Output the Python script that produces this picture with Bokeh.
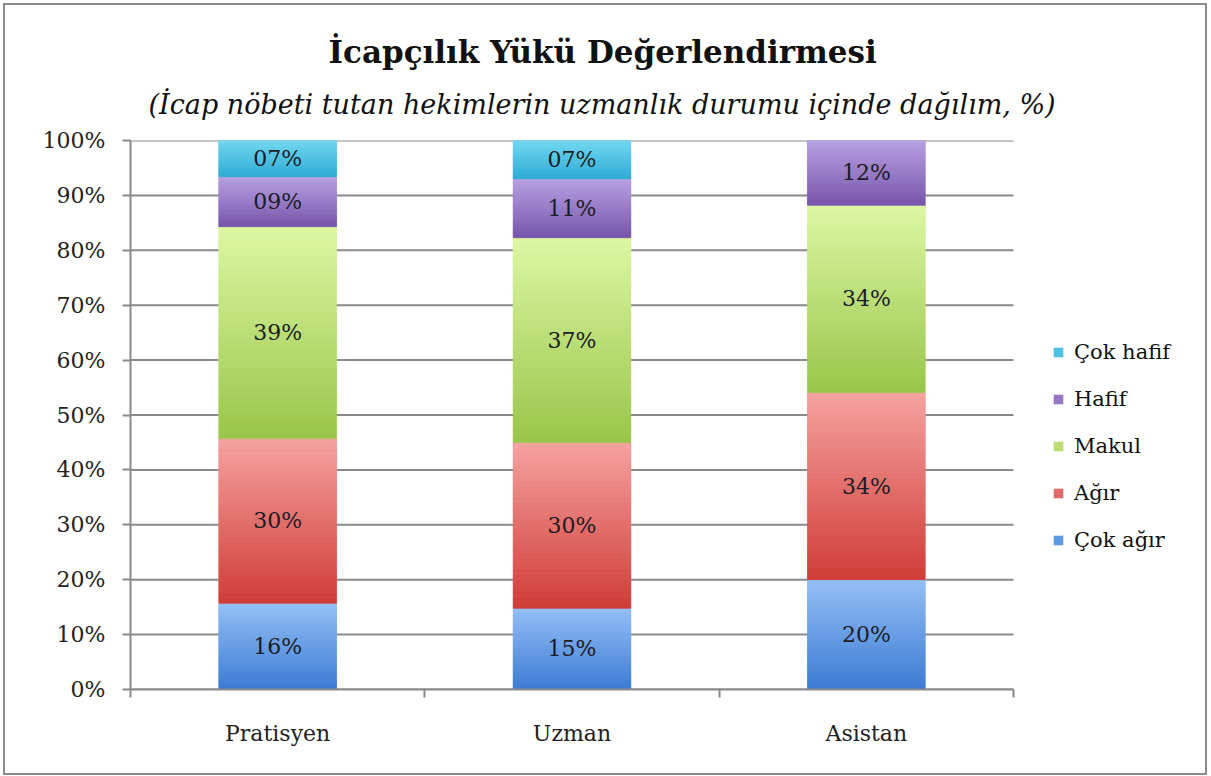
from bokeh.plotting import figure
from bokeh.models import (ColumnDataSource, FixedTicker, PrintfTickFormatter,
                          Legend, LegendItem, Title, Range1d)
from bokeh.core.properties import value
from bokeh.embed import file_html
from bokeh.resources import INLINE

title_text = "İcapçılık Yükü Değerlendirmesi"
subtitle_text = "(İcap nöbeti tutan hekimlerin uzmanlık durumu  içinde dağılım, %)"

categories = ["Pratisyen", "Uzman", "Asistan"]
series = ["Çok ağır", "Ağır", "Makul", "Hafif", "Çok hafif"]

cok_agir = [15.7, 14.8, 20.0]
agir = [30.0, 30.2, 34.1]
makul = [38.6, 37.3, 34.1]
hafif = [9.1, 10.7, 11.8]
cok_hafif = [6.6, 7.0, 0.0]

label_cok_agir = ["16%", "15%", "20%"]
label_agir = ["30%", "30%", "34%"]
label_makul = ["39%", "37%", "34%"]
label_hafif = ["09%", "11%", "12%"]
label_cok_hafif = ["07%", "07%", ""]

y_ticks = [0, 10, 20, 30, 40, 50, 60, 70, 80, 90, 100]

values = [cok_agir, agir, makul, hafif, cok_hafif]
labels = [label_cok_agir, label_agir, label_makul, label_hafif, label_cok_hafif]

colors_top = ["#95c0f6", "#f6a3a1", "#ddf8a4", "#b9a2e3", "#74d8f2"]
colors_bottom = ["#3c7bd3", "#cf3c37", "#9ac54a", "#7655aa", "#2eabd3"]
colors_mid = ["#5f98e3", "#e36b67", "#b9dd70", "#9878c6", "#4cc2e4"]

FONT = "DejaVu Serif"
GRAY = "#8a8a8a"

# layout (pixels, inside the figure element)
FRAME_LEFT, PLOT_RIGHT, FRAME_RIGHT = 125, 1008, 1190
n_cat = len(categories)
x_end = n_cat * (FRAME_RIGHT - FRAME_LEFT) / (PLOT_RIGHT - FRAME_LEFT)


def hex_to_rgb(h):
    h = h.lstrip("#")
    return tuple(int(h[i:i + 2], 16) for i in (0, 2, 4))


def mix(c1, c2, t):
    a, b = hex_to_rgb(c1), hex_to_rgb(c2)
    return "#%02x%02x%02x" % tuple(int(round(a[i] + (b[i] - a[i]) * t)) for i in range(3))


p = figure(width=1200, height=768,
           x_range=Range1d(0, x_end), y_range=Range1d(0, 100),
           output_backend="svg", toolbar_location=None,
           min_border_left=FRAME_LEFT, min_border_right=1200 - FRAME_RIGHT,
           min_border_top=135, min_border_bottom=84,
           outline_line_color=None,
           background_fill_color="white", border_fill_color="white")
p.styles = {"position": "relative", "left": "5px", "top": "5px",
            "outline": "2px solid #8c8c8c", "outline-offset": "0px"}

# main title (outermost) and subtitle (next to the frame)
p.title.text = title_text
p.title.align = "left"
p.title.offset = 198
p.title.standoff = -6
p.title.text_font = FONT
p.title.text_font_style = "bold"
p.title.text_font_size = "31px"
p.title.text_color = "#111111"
p.add_layout(Title(text=subtitle_text, align="left", offset=18, standoff=41,
                   text_font=FONT, text_font_style="italic",
                   text_font_size="27px", text_color="#111111"), "above")

xs = [i + 0.5 for i in range(n_cat)]
BAR_W = 0.4
N = 30

# horizontal gridlines over the category span only
p.xgrid.visible = False
p.ygrid.visible = False
p.segment(x0=[0] * len(y_ticks), x1=[n_cat] * len(y_ticks), y0=y_ticks, y1=y_ticks,
          line_color=GRAY, line_width=2)

bottoms = [0.0] * n_cat
legend_renderers = []
for s_idx, name in enumerate(series):
    vals = values[s_idx]
    tops = [bottoms[i] + vals[i] for i in range(n_cat)]
    src = ColumnDataSource(dict(x=xs, bottom=list(bottoms), top=tops))
    r = p.vbar(x="x", width=BAR_W, bottom="bottom", top="top", source=src,
               fill_color=colors_mid[s_idx], line_color=None)
    legend_renderers.append(r)

    gx, gb, gt, gc = [], [], [], []
    for i in range(n_cat):
        v = vals[i]
        if v <= 0:
            continue
        for k in range(N):
            gx.append(xs[i])
            gb.append(bottoms[i] + v * k / N)
            gt.append(bottoms[i] + v * (k + 1) / N)
            gc.append(mix(colors_bottom[s_idx], colors_top[s_idx], (k + 0.5) / N))
    gsrc = ColumnDataSource(dict(x=gx, bottom=gb, top=gt, color=gc))
    p.vbar(x="x", width=BAR_W, bottom="bottom", top="top", source=gsrc,
           fill_color="color", line_color="color", line_width=0.6)

    lx, ly, lt = [], [], []
    for i in range(n_cat):
        if vals[i] > 0 and labels[s_idx][i]:
            lx.append(xs[i])
            ly.append(bottoms[i] + vals[i] / 2)
            lt.append(labels[s_idx][i])
    lsrc = ColumnDataSource(dict(x=lx, y=ly, t=lt))
    p.text(x="x", y="y", text="t", source=lsrc, text_align="center",
           text_baseline="middle", text_font=value(FONT),
           text_font_size="22px", text_color="#1c1c24")
    bottoms = tops

p.yaxis.ticker = FixedTicker(ticks=y_ticks, minor_ticks=[])
p.yaxis.formatter = PrintfTickFormatter(format="%d%%")
p.yaxis.axis_line_color = GRAY
p.yaxis.axis_line_width = 2
p.yaxis.major_tick_line_color = GRAY
p.yaxis.major_tick_line_width = 2
p.yaxis.major_tick_in = 0
p.yaxis.major_tick_out = 8
p.yaxis.minor_tick_line_color = None
p.yaxis.major_label_standoff = 17
p.yaxis.major_label_text_font = FONT
p.yaxis.major_label_text_font_size = "22px"
p.yaxis.major_label_text_color = "#222222"

p.xaxis.bounds = (0, n_cat)
p.xaxis.ticker = FixedTicker(ticks=xs, minor_ticks=[float(i) for i in range(n_cat + 1)])
p.xaxis.major_label_overrides = {x: c for x, c in zip(xs, categories)}
p.xaxis.axis_line_color = GRAY
p.xaxis.axis_line_width = 2
p.xaxis.major_tick_line_color = None
p.xaxis.major_tick_in = 0
p.xaxis.major_tick_out = 0
p.xaxis.minor_tick_line_color = GRAY
p.xaxis.minor_tick_line_width = 2
p.xaxis.minor_tick_in = 0
p.xaxis.minor_tick_out = 8
p.xaxis.major_label_standoff = 23
p.xaxis.major_label_text_font = FONT
p.xaxis.major_label_text_font_size = "22px"
p.xaxis.major_label_text_color = "#222222"

items = [LegendItem(label=series[k], renderers=[legend_renderers[k]])
         for k in reversed(range(len(series)))]
legend = Legend(items=items, location=(922, 137),
                border_line_color=None, background_fill_alpha=0,
                glyph_width=12, glyph_height=12,
                label_text_font=FONT, label_text_font_size="21px",
                label_text_color="#111111",
                label_height=25, spacing=22, label_standoff=10,
                padding=10, margin=0)
p.add_layout(legend, "center")

open("out.html", "w").write(file_html(p, INLINE))
